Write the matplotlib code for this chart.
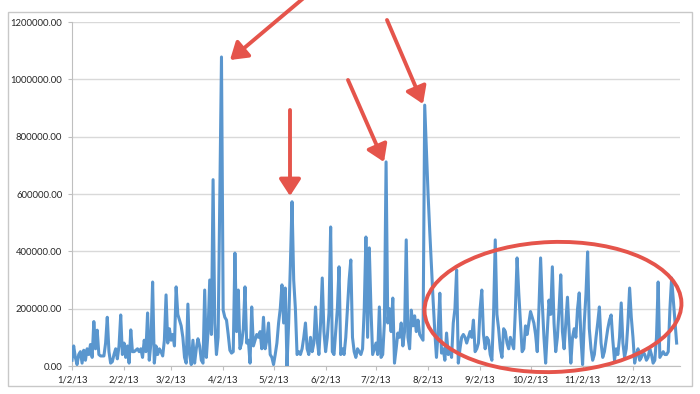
import matplotlib
matplotlib.use("Agg")
import matplotlib.pyplot as plt
from matplotlib.patches import Ellipse, Rectangle
import pandas as pd

# daily values in thousands, one list per month (2nd of month -> 1st of next)
jan = [20, 70, 30, 5, 40, 50, 10, 55, 20, 60, 40, 75, 30, 155, 60, 125, 40, 35, 35, 35,
       80, 170, 50, 10, 15, 40, 60, 25, 70, 178, 40]
feb = [80, 30, 70, 10, 126, 50, 50, 55, 60, 50, 60, 30, 90, 50, 185, 20, 80, 293, 10, 70,
       40, 60, 50, 35, 90, 248, 80, 130]
mar = [90, 110, 70, 276, 180, 160, 140, 100, 30, 10, 216, 40, 5, 90, 10, 60, 95, 70, 20, 10,
       265, 30, 120, 300, 110, 650, 150, 40, 100, 600, 1078]
apr = [195, 170, 160, 110, 55, 45, 50, 394, 120, 265, 60, 80, 130, 276, 80, 90, 10, 206, 70, 90,
       110, 100, 120, 60, 170, 60, 90, 150, 40, 30]
may = [5, 40, 80, 150, 200, 283, 150, 272, 0, 150, 350, 573, 300, 200, 40, 50, 40, 60, 100, 150,
       60, 40, 100, 50, 80, 206, 90, 40, 150, 307, 120]
jun = [50, 100, 185, 485, 50, 40, 120, 200, 346, 40, 60, 40, 100, 200, 300, 370, 100, 50, 30, 60,
       50, 40, 60, 200, 450, 100, 412, 200, 40, 60]
jul = [80, 40, 206, 30, 40, 150, 712, 150, 200, 120, 237, 10, 60, 115, 100, 150, 70, 120, 440, 100,
       60, 195, 140, 175, 120, 160, 110, 100, 90, 910, 750]
aug = [600, 470, 350, 230, 120, 30, 120, 254, 45, 60, 20, 115, 40, 60, 30, 150, 200, 335, 10, 60,
       100, 110, 100, 80, 100, 120, 100, 160, 50, 60, 80]
sep = [200, 265, 110, 60, 100, 90, 40, 20, 180, 440, 180, 130, 60, 30, 130, 120, 80, 60, 100, 80,
       60, 200, 377, 255, 150, 50, 60, 140, 110, 150]
oct_ = [190, 170, 150, 110, 50, 200, 377, 220, 100, 10, 120, 230, 180, 346, 150, 50, 100, 200, 318, 120,
        60, 150, 240, 120, 10, 100, 130, 100, 200, 255, 100]
nov = [5, 150, 250, 398, 130, 60, 20, 40, 100, 150, 206, 80, 30, 50, 90, 130, 160, 178, 90, 20,
       60, 40, 100, 220, 80, 30, 60, 150, 272, 170]
dec = [100, 10, 40, 60, 20, 30, 50, 40, 20, 30, 60, 40, 10, 20, 100, 293, 30, 40, 50, 40,
       40, 50, 200, 307, 230, 150, 80]

tick_labels = ["1/2/13", "2/2/13", "3/2/13", "4/2/13", "5/2/13", "6/2/13",
               "7/2/13", "8/2/13", "9/2/13", "10/2/13", "11/2/13", "12/2/13"]
y_ticks = [0, 200000, 400000, 600000, 800000, 1000000, 1200000]

months = [jan, feb, mar, apr, may, jun, jul, aug, sep, oct_, nov, dec]
dates = []
values = []
for i, m in enumerate(months):
    start = pd.Timestamp(2013, i + 1, 2)
    dates += list(pd.date_range(start, periods=len(m), freq="D"))
    values += [v * 1000 for v in m]

plt.rcParams['font.family'] = ['Lato', 'DejaVu Sans']

fig = plt.figure(figsize=(7, 3.94), dpi=100)
ax = fig.add_axes([72 / 700, 28 / 394, 608 / 700, 344 / 394])

ax.plot(dates, values, color='#5A96CE', lw=2.2, zorder=3)

ax.set_ylim(0, 1200000)
ax.set_yticks(y_ticks)
ax.set_yticklabels(["%.2f" % v for v in y_ticks])
ax.set_xlim(pd.Timestamp(2013, 1, 2), pd.Timestamp(2013, 12, 30))
ax.set_xticks([pd.Timestamp(2013, k, 2) for k in range(1, 13)])
ax.set_xticklabels(tick_labels)

ax.grid(axis='y', color='#D9D9D9', lw=1)
ax.set_axisbelow(True)
for s in ['top', 'right']:
    ax.spines[s].set_visible(False)
for s in ['left', 'bottom']:
    ax.spines[s].set_color('#BFBFBF')
ax.tick_params(axis='both', colors='#BFBFBF', labelcolor='#262626', labelsize=6.8, length=3)
ax.tick_params(axis='y', pad=4)
ax.tick_params(axis='x', pad=4)

# overlay in pixel coords for frame and hand-drawn annotations
ov = fig.add_axes([0, 0, 1, 1], zorder=5)
ov.set_xlim(0, 700)
ov.set_ylim(394, 0)
ov.axis('off')
ov.patch.set_alpha(0)

ov.add_patch(Rectangle((8, 12), 684, 374, fill=False, ec='#C8C8C8', lw=1))

red = '#E5544B'
arrows = [((306, -4), (230, 60)),
          ((290, 110), (290, 196)),
          ((348, 80), (384, 162)),
          ((387, 20), (423, 104))]
for tail, tip in arrows:
    ov.annotate('', xy=tip, xytext=tail,
                arrowprops=dict(arrowstyle='-|>,head_length=1.0,head_width=0.65',
                                color=red, lw=2.8, shrinkA=0, shrinkB=0),
                annotation_clip=False)

ov.add_patch(Ellipse((553, 307), 257, 130, angle=-2, fill=False, ec=red, lw=2.8))

fig.savefig("out.png", dpi=100)
